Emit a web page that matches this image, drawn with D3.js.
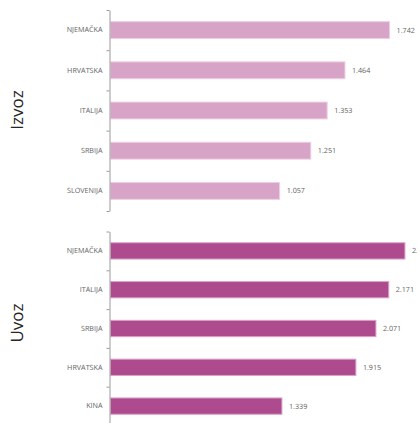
<!DOCTYPE html>
<html><head><meta charset="utf-8">
<script src="https://cdn.jsdelivr.net/npm/d3@7"></script>
<style>body{margin:0;background:#fff}svg{display:block}text{text-rendering:geometricPrecision}</style>
</head><body>
<svg id="c" width="417" height="423"></svg>
<script>
const izvozCategories = ["NJEMAČKA","HRVATSKA","ITALIJA","SRBIJA","SLOVENIJA"];
const izvozValues = [1742,1464,1353,1251,1057];
const uvozCategories = ["NJEMAČKA","ITALIJA","SRBIJA","HRVATSKA","KINA"];
const uvozValues = [2297,2171,2071,1915,1339];
const panelTitles = ["Izvoz","Uvoz"];

const svg = d3.select("#c");
const font = "'Open Sans', sans-serif";
const fmt = v => d3.format(",")(v).replace(/,/g, ".");

function panel(cats, vals, title, y0, y1, xMax, fill, stroke, titleY){
  const x = d3.scaleLinear().domain([0, xMax]).range([110, 431]);
  const y = d3.scaleBand().domain(cats).range([y0, y1]).paddingInner(0.58).paddingOuter(0.29);
  const g = svg.append("g");
  g.selectAll("rect").data(cats).join("rect")
    .attr("x", x(0)+0.5).attr("y", d => y(d))
    .attr("width", (d,i) => x(vals[i]) - x(0) - 0.5).attr("height", y.bandwidth())
    .attr("fill", fill).attr("stroke", stroke).attr("stroke-width", 1);
  g.selectAll("text.v").data(cats).join("text").attr("class","v")
    .attr("x", (d,i) => x(vals[i]) + 7).attr("y", d => y(d) + y.bandwidth()/2)
    .attr("dy", "0.35em").attr("font-family", font).attr("font-size", 7.2)
    .attr("fill", "#606060").text((d,i) => fmt(vals[i]));
  const yAxisScale = d3.scaleBand().domain(cats).range([y0, y1]);
  const ax = g.append("g").attr("transform", `translate(${x(0)-0.5},0)`)
    .call(d3.axisLeft(yAxisScale).tickSize(0).tickPadding(7));
  ax.select(".domain").attr("stroke", "#9a9a9a");
  ax.selectAll("text").attr("font-family", font).attr("font-size", 7.2)
    .style("fill", "#666666");
  const bounds = cats.map(c => yAxisScale(c)).concat([y1]);
  g.selectAll("line.t").data(bounds).join("line").attr("class","t")
    .attr("x1", x(0)-3.5).attr("x2", x(0)-0.5)
    .attr("y1", d => d+0.5).attr("y2", d => d+0.5)
    .attr("stroke", "#9a9a9a");
  svg.append("text").attr("transform", `translate(23,${titleY}) rotate(-90)`)
    .attr("text-anchor", "middle").attr("font-family", font).attr("font-size", 17)
    .attr("fill", "#262626").text(title);
}

panel(izvozCategories, izvozValues, panelTitles[0], 10, 211, 2000, "#d7a3c7", "#ecd0e3", 110);
panel(uvozCategories, uvozValues, panelTitles[1], 231.5, 425.5, 2500, "#ad4b8e", "#d9a2c9", 323);
</script>
</body></html>
